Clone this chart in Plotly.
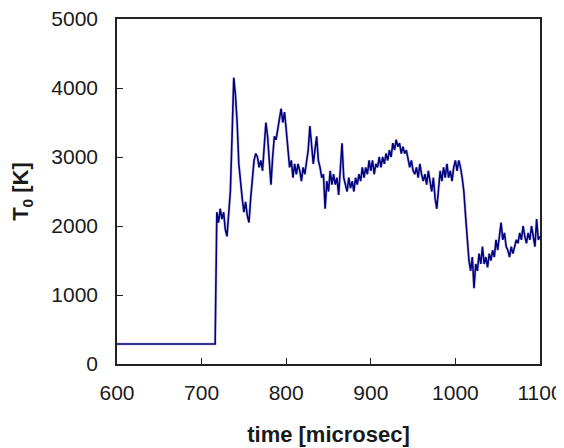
import plotly.graph_objects as go

# time [microsec]
t_flat = [600, 716]
T_flat = [290, 290]

t_start = 718
t_step = 2
T_vals = [
    2200, 2050, 2250, 2100, 2200, 1950, 1850, 2150, 2500, 3300,   # 718-736
    4150, 3900, 3500, 2900, 2600, 2400, 2200, 2350, 2150, 2050,   # 738-756
    2400, 2750, 2950, 3050, 3000, 2850, 2950, 2800, 3100, 3500,   # 758-776
    3300, 2900, 2600, 3000, 3300, 3250, 3400, 3600, 3700, 3500,   # 778-796
    3650, 3400, 3100, 2850, 2950, 2700, 2900, 2750, 2900, 2800,   # 798-816
    2650, 2850, 2750, 2900, 3100, 3450, 3200, 2900, 3100, 3300,   # 818-836
    2950, 2850, 2700, 2750, 2250, 2650, 2500, 2800, 2600, 2750,   # 838-856
    2600, 2700, 2450, 2800, 3200, 2700, 2600, 2500, 2700, 2550,   # 858-876
    2650, 2500, 2700, 2600, 2750, 2650, 2850, 2700, 2850, 2750,   # 878-896
    2950, 2800, 2950, 2750, 2900, 2850, 3000, 2850, 3000, 2900,   # 898-916
    3050, 2950, 3100, 3000, 3200, 3100, 3250, 3150, 3200, 3050,   # 918-936
    3150, 3050, 3100, 2950, 2850, 2950, 2800, 2750, 2850, 2700,   # 938-956
    2900, 2750, 2650, 2750, 2600, 2800, 2650, 2500, 2700, 2400,   # 958-976
    2250, 2600, 2800, 2650, 2850, 2700, 2900, 2700, 2800, 2650,   # 978-996
    2850, 2950, 2800, 2950, 2850, 2700, 2500, 2150, 1800, 1500,   # 998-1016
    1350, 1550, 1100, 1450, 1350, 1600, 1450, 1700, 1450, 1550,   # 1018-1036
    1400, 1600, 1500, 1650, 1550, 1800, 1650, 1900, 2050, 1800,   # 1038-1056
    1900, 1700, 1650, 1550, 1700, 1600, 1700, 1800, 1750, 1900,   # 1058-1076
    1800, 2000, 1850, 1750, 1900, 1800, 2000, 1850, 1700, 2100,   # 1078-1096
    1800, 1850,                                                   # 1098-1100
]

t_vals = [t_start + i * t_step for i in range(len(T_vals))]
t_all = t_flat + t_vals
T_all = T_flat + T_vals

x_ticks = [600, 700, 800, 900, 1000, 1100]
y_ticks = [0, 1000, 2000, 3000, 4000, 5000]

fig = go.Figure()
# soft halo under the trace (anti-aliased look of the original)
fig.add_trace(go.Scatter(
    x=t_all, y=T_all, mode="lines",
    line=dict(color="rgba(120,120,180,0.35)", width=3),
    showlegend=False, hoverinfo="skip",
))
fig.add_trace(go.Scatter(
    x=t_all, y=T_all, mode="lines",
    line=dict(color="#000080", width=1.6),
    showlegend=False,
))

axis_font = dict(family="Liberation Sans, Arial, sans-serif", size=21, color="#1a1a1a")
title_font = dict(family="Liberation Sans, Arial, sans-serif", size=22, color="#1a1a1a", weight="bold")

fig.update_layout(
    width=564, height=448,
    margin=dict(l=109, r=32, t=11, b=92),
    paper_bgcolor="white", plot_bgcolor="white",
    xaxis=dict(
        range=[600, 1100], tickvals=x_ticks, ticktext=[str(v) for v in x_ticks],
        showgrid=False, zeroline=False, automargin=False,
        showline=True, linecolor="#222", linewidth=1.5, mirror=True,
        ticks="inside", ticklen=6, tickwidth=1.3, tickcolor="#222",
        tickfont=axis_font, ticklabelstandoff=9, ticklabeloverflow="allow",
        title=dict(text="time [microsec]", font=title_font, standoff=24),
    ),
    yaxis=dict(
        range=[0, 5000], tickvals=y_ticks, ticktext=[str(v) for v in y_ticks],
        showgrid=False, zeroline=False, automargin=False,
        showline=True, linecolor="#222", linewidth=1.5, mirror=True,
        ticks="inside", ticklen=6, tickwidth=1.3, tickcolor="#222",
        tickfont=axis_font, ticklabelstandoff=13, ticklabeloverflow="allow",
        title=dict(text="T<sub>0</sub> [K]", font=title_font, standoff=20),
    ),
)

fig.write_html("out.html")
